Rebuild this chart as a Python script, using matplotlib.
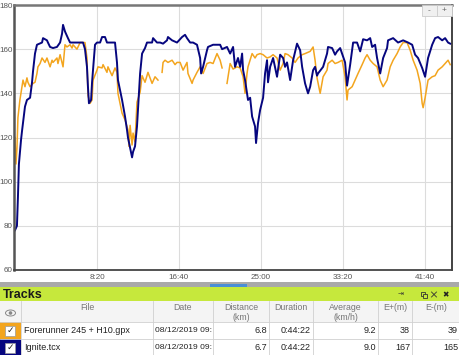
#! /usr/bin/env python
# heart rate comparison - two tracks, with the tracks table underneath

import numpy as np
import matplotlib.pyplot as plt
from matplotlib.patches import Rectangle, Ellipse, Circle

nan = np.nan

# elapsed seconds / bpm
ignite_t = [0, 12, 18, 24, 37, 43, 61, 73, 92, 104, 110, 122, 134, 165, 171, 195, 201, 214, 232, 256,
            275, 287, 293, 305, 323, 336, 415, 427, 439, 445, 451, 464, 470, 488, 500, 519, 531, 549,
            561, 580, 610, 622, 628, 653, 671, 683, 689, 714, 720, 732, 744, 763, 775, 793, 805, 836,
            842, 866, 885, 903, 927, 933, 958, 988, 1019, 1037, 1049, 1068, 1086, 1110, 1129, 1135,
            1147, 1171, 1177, 1208, 1251, 1263, 1293, 1312, 1330, 1342, 1360, 1373, 1385, 1391, 1403,
            1421, 1434, 1446, 1464, 1470, 1482, 1495, 1513, 1525, 1537, 1543, 1556, 1574, 1598, 1617,
            1635, 1647, 1659, 1678, 1696, 1720, 1739, 1751, 1769, 1787, 1800, 1818, 1830, 1842, 1848,
            1879, 1903, 1909, 1934, 1952, 1964, 1983, 2013, 2025, 2044, 2062, 2086, 2105, 2123, 2147,
            2166, 2178, 2196, 2208, 2227, 2245, 2269, 2275, 2306, 2336, 2367, 2397, 2422, 2440, 2458,
            2483, 2501, 2519, 2544, 2562, 2580, 2605, 2623, 2641, 2654]
ignite_hr = [78, 80, 93, 108, 119, 123, 134, 137, 138, 145, 150, 158, 162, 163, 165, 164, 163, 161, 160.5, 161,
             163, 167, 171, 168, 165, 163, 163, 160, 152, 143, 135.5, 137, 145, 162, 163, 163, 165.5, 165.5,
             163, 163, 163, 154, 146, 137, 129.5, 123.5, 120, 111, 113.5, 116, 125, 149, 158, 160.5, 163, 163,
             165, 163, 163, 162.5, 164, 165.5, 164, 163, 165.5, 166.5, 165, 163, 163, 162, 156, 149,
             152, 159.5, 161, 162, 162, 160, 161, 158, 161, 152, 156, 152, 158, 150.5, 146,
             137, 138, 129.5, 125, 117.5, 126.5, 132.5, 138, 149, 155, 145, 152, 156, 147.5, 157.5,
             156, 152, 154, 146, 155, 162.5, 159.5, 152, 144.5, 140, 143, 150.5, 152, 148, 149,
             152, 158, 161, 160.5, 157.5, 159, 160.5, 154, 143.5, 153, 163, 163, 159, 164.5, 164,
             165, 161, 162, 156, 149, 156, 160.5, 164, 165, 163, 164, 163, 162, 157.5, 156,
             151.5, 147.5, 156, 162, 165, 165.5, 164, 165, 163, 162.5]

fr245_t = [0, 6, 12, 18, 30, 43, 49, 61, 73, 79, 92, 110, 122, 134, 140, 153, 165, 183, 195, 214,
           226, 232, 256, 262, 275, 293, 305, 317, 336, 348, 354, 378, 397, 427, 439, 445, 458, 470,
           476, 500, 506, 531, 537, 561, 567, 592, 610, 622, 628, 653, 671, 689, 695, 702, 714, 720,
           732, 744, 763, 775, 793, 811, 836, 854, 872, 884, 897, 903, 915, 933, 958, 976, 988, 1007,
           1025, 1049, 1055, 1080, 1086, 1110, 1129, 1147, 1171, 1190, 1208, 1232, 1251, 1263, 1278,
           1293, 1312, 1330, 1354, 1373, 1391, 1403, 1415, 1421, 1446, 1464, 1476, 1495, 1513, 1537,
           1556, 1574, 1598, 1617, 1635, 1647, 1665, 1690, 1708, 1726, 1751, 1769, 1800, 1818, 1830,
           1842, 1861, 1879, 1903, 1909, 1934, 1952, 1970, 1995, 2013, 2025, 2031, 2056, 2074, 2092,
           2117, 2135, 2147, 2166, 2184, 2208, 2227, 2245, 2269, 2288, 2306, 2330, 2349, 2367, 2391,
           2410, 2428, 2452, 2471, 2483, 2489, 2501, 2519, 2544, 2562, 2580, 2605, 2623, 2641, 2654]
fr245_hr = [120, 108, 115, 129, 137, 143, 146, 143, 147, 145, 143, 144.5, 145, 149, 152, 153.5, 156, 154, 156, 152,
            155, 154, 156, 153.5, 157.5, 152, 162, 161, 162, 160.5, 162, 160, 163, 163, 156, 139, 135.5, 137,
            146, 150.5, 152, 151.5, 153, 149.5, 152, 148, 151.5, 149.5, 140, 131, 128, 123.5, 116, 125.5, 116.6, 122,
            118, 136, 140.5, 148, 145, 149.5, 144.5, 147.5, 146, nan, 149.5, 154, 155, 154, 155, 153, 154, 154,
            150.5, 154, 149, 144.5, 146, 149.5, 152, 149, 153.5, 154, 153.5, 158, 155, 151.5, nan,
            144.5, 153.5, 151, 152, 151.5, 147.5, 140, 149, 152, 158, 156, 157.5, 158, 157.5, 156,
            156.5, 157.5, 156, 150.5, 153.5, 158, 157.5, 156, 154, 156, 157.5, 158, 159, 161, 155,
            147, 140, 147.5, 150.5, 153.5, 155, 153.5, 154, 155, 147.5, 137, 141.5, 143, 146, 149,
            153, 156, 157.5, 155, 153.5, 152, 146, 143, 146, 152, 155, 158, 161, 163, 163,
            159.5, 155, 150.5, 144.5, 135.5, 133.5, 138, 146, 147.5, 148, 150.5, 152, 153.5, 155, 153]

x_ticks = [500, 1000, 1500, 2000, 2500]
x_labels = ['8:20', '16:40', '25:00', '33:20', '41:40']
y_ticks = [60, 80, 100, 120, 140, 160, 180]

ORANGE = '#f3a51e'
NAVY = '#06067f'

# tracks table
columns = ['File', 'Date', 'Distance\n(km)', 'Duration', 'Average\n(km/h)', 'E+(m)', 'E-(m)']
files = ['Forerunner 245 + H10.gpx', 'Ignite.tcx']
dates = ['08/12/2019 09:', '08/12/2019 09:']
distance = ['6.8', '6.7']
duration = ['0:44:22', '0:44:22']
average = ['9.2', '9.0']
e_plus = ['38', '167']
e_minus = ['39', '165']
track_colors = [ORANGE, NAVY]

plt.rcParams['font.family'] = ['Liberation Sans', 'DejaVu Sans']

W, H = 460, 355
fig = plt.figure(figsize=(W / 100, H / 100), dpi=100)

ax = fig.add_axes([14 / W, 1 - 270 / H, (452 - 14) / W, (270 - 5) / H])
ax.plot(fr245_t, fr245_hr, color=ORANGE, lw=1.1)
ax.plot(ignite_t, ignite_hr, color=NAVY, lw=1.4)
ax.set_xlim(-6, 2665)
ax.set_ylim(60, 180)
ax.set_xticks(x_ticks)
ax.set_xticklabels(x_labels)
ax.set_yticks(y_ticks)
ax.grid(color='#dcdcdc', lw=0.8)
ax.set_axisbelow(True)
ax.tick_params(axis='both', length=0, labelsize=5.8, labelcolor='#555555')
ax.tick_params(axis='y', pad=1)
ax.tick_params(axis='x', pad=3)
ax.spines['left'].set_color('#555555')
ax.spines['left'].set_linewidth(1.8)
ax.spines['bottom'].set_color('#444444')
ax.spines['bottom'].set_linewidth(1.3)
ax.spines['top'].set_color('#777777')
ax.spines['top'].set_linewidth(1.8)
ax.spines['right'].set_color('#222222')
ax.spines['right'].set_linewidth(1.2)

# overlay in pixel coords for the ui bits
ui = fig.add_axes([0, 0, 1, 1])
ui.set_xlim(0, W)
ui.set_ylim(H, 0)
ui.axis('off')

# zoom buttons
for bx, s in [(422, '-'), (437, '+')]:
    ui.add_patch(Rectangle((bx, 5), 15, 11, fc='#f0f0f0', ec='#cccccc', lw=0.6))
    ui.text(bx + 7.5, 10.5, s, ha='center', va='center', fontsize=6, color='#666666')

# scroll bar
ui.add_patch(Rectangle((0, 282), W, 5, fc='#a9a9a9', ec='none'))
ui.add_patch(Rectangle((210, 283.5), 37, 3.5, fc='#4a8fd6', ec='none'))

# tracks bar
ui.add_patch(Rectangle((0, 287), W, 14, fc='#c6e83c', ec='none'))
ui.text(3, 294.5, 'Tracks', ha='left', va='center', fontsize=9, fontweight='bold', color='#1a1a1a')
ui.text(401, 294.5, '⇥', ha='center', va='center', fontsize=5, color='#333333', family='DejaVu Sans')
# little window icons (no font has them) as shapes
ui.add_patch(Rectangle((421.5, 292), 3.5, 3.5, fc='none', ec='#333333', lw=0.6))
ui.add_patch(Rectangle((423.5, 294), 3.5, 3.5, fc='#c6e83c', ec='#333333', lw=0.6))
ui.plot([431.5, 436.5], [292, 297], color='#333333', lw=0.6)
ui.plot([431.5, 436.5], [297, 292], color='#333333', lw=0.6)
ui.text(446, 294.5, '✖', ha='center', va='center', fontsize=5.5, color='#222222', family='DejaVu Sans')

# table
col_edges = [0, 21, 153, 213, 269, 313, 378, 412, 460]
ui.add_patch(Rectangle((0, 301), W, 21, fc='#f4f4f4', ec='none'))
for r in range(2):
    ui.add_patch(Rectangle((0, 322 + r * 17), W, 17, fc='white', ec='none'))
for xe in col_edges[1:-1]:
    ui.plot([xe, xe], [301, H], color='#d0d0d0', lw=0.6)
for ye in [322, 339]:
    ui.plot([0, W], [ye, ye], color='#d0d0d0', lw=0.6)

# eye icon
ui.add_patch(Ellipse((10.5, 313), 10, 6, fc='none', ec='#888888', lw=0.7))
ui.add_patch(Circle((10.5, 313), 1.8, fc='#888888', ec='none'))

for i, c in enumerate(columns):
    cx = (col_edges[i + 1] + col_edges[i + 2]) / 2
    lines = c.split('\n')
    for j, ln in enumerate(lines):
        ui.text(cx, 307 + j * 10.5, ln, ha='center', va='center', fontsize=6.3, color='#777777')

for r in range(2):
    yc = 330.5 + r * 17
    ui.add_patch(Rectangle((0, 322 + r * 17), 21, 17, fc=track_colors[r], ec='none'))
    ui.add_patch(Rectangle((5.5, yc - 5), 10, 10, fc='white', ec='#999999', lw=0.5))
    ui.text(10.5, yc, '✓', ha='center', va='center', fontsize=6.5, color='#222222', family='DejaVu Sans')
    ui.text(24, yc, files[r], ha='left', va='center', fontsize=6.5, color='#222222')
    ui.text(155, yc, dates[r], ha='left', va='center', fontsize=6.1, color='#222222')
    row = [distance[r], duration[r], average[r], e_plus[r], e_minus[r]]
    for k, v in enumerate(row):
        ui.text(col_edges[k + 4] - 2, yc, v, ha='right', va='center', fontsize=6.5, color='#222222')

fig.savefig('out.png', dpi=100)
